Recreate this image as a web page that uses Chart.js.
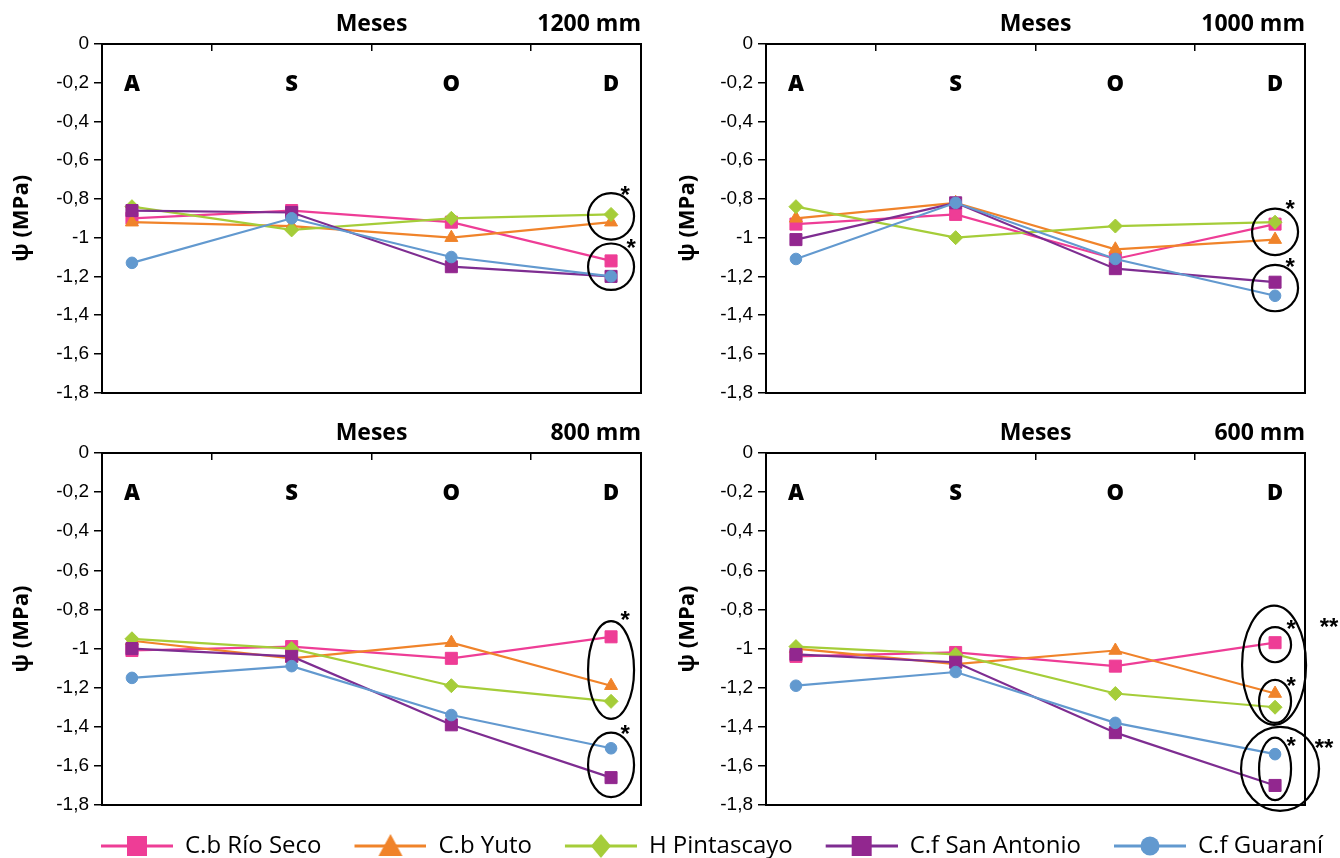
<!DOCTYPE html>
<html>
<head>
<meta charset="utf-8">
<script src="https://cdn.jsdelivr.net/npm/chart.js@4.4.0/dist/chart.umd.min.js"></script>
<style>
html,body{margin:0;padding:0;background:#fff;width:1340px;height:858px;overflow:hidden;position:relative;}
canvas{position:absolute;}
</style>
</head>
<body>
<canvas id="c1" width="670" height="409" style="left:0;top:0"></canvas>
<canvas id="c2" width="670" height="409" style="left:670px;top:0"></canvas>
<canvas id="c3" width="670" height="420" style="left:0;top:409px"></canvas>
<canvas id="c4" width="670" height="420" style="left:670px;top:409px"></canvas>
<canvas id="cl" width="1340" height="120" style="left:0;top:816px"></canvas>
<script>
// ---------------- data ----------------
const months = ['A', 'S', 'O', 'D'];
const seriesNames = ['C.b Río Seco', 'C.b Yuto', 'H Pintascayo', 'C.f San Antonio', 'C.f Guaraní'];
const panelTitles = ['1200 mm', '1000 mm', '800 mm', '600 mm'];
const xAxisTitle = 'Meses';
const yAxisTitle = 'ψ (MPa)';
const yMin = -1.8, yMax = 0, yStep = 0.2;

// 1200 mm
const rioSeco1200    = [-0.90, -0.86, -0.92, -1.12];
const yuto1200       = [-0.92, -0.94, -1.00, -0.92];
const pintascayo1200 = [-0.84, -0.96, -0.90, -0.88];
const sanAntonio1200 = [-0.86, -0.87, -1.15, -1.20];
const guarani1200    = [-1.13, -0.90, -1.10, -1.20];
// 1000 mm
const rioSeco1000    = [-0.93, -0.88, -1.11, -0.93];
const yuto1000       = [-0.90, -0.82, -1.06, -1.01];
const pintascayo1000 = [-0.84, -1.00, -0.94, -0.92];
const sanAntonio1000 = [-1.01, -0.82, -1.16, -1.23];
const guarani1000    = [-1.11, -0.82, -1.11, -1.30];
// 800 mm
const rioSeco800    = [-1.01, -0.99, -1.05, -0.94];
const yuto800       = [-0.96, -1.05, -0.97, -1.19];
const pintascayo800 = [-0.95, -1.00, -1.19, -1.27];
const sanAntonio800 = [-1.00, -1.04, -1.39, -1.66];
const guarani800    = [-1.15, -1.09, -1.34, -1.51];
// 600 mm
const rioSeco600    = [-1.04, -1.02, -1.09, -0.97];
const yuto600       = [-1.00, -1.08, -1.01, -1.23];
const pintascayo600 = [-0.99, -1.03, -1.23, -1.30];
const sanAntonio600 = [-1.03, -1.07, -1.43, -1.70];
const guarani600    = [-1.19, -1.12, -1.38, -1.54];

// significance marks at December (value ranges enclosed)
const marks1200 = [
  {top: -0.77, bottom: -1.01, star: '*'},
  {top: -1.03, bottom: -1.27, star: '*'}
];
const marks1000 = [
  {top: -0.85, bottom: -1.09, star: '*'},
  {top: -1.14, bottom: -1.38, star: '*'}
];
const marks800 = [
  {top: -0.86, bottom: -1.36, star: '*'},
  {top: -1.43, bottom: -1.76, star: '*'}
];
const marks600 = [
  {top: -0.78, bottom: -1.39, star: '**'},
  {top: -0.89, bottom: -1.07, star: '*'},
  {top: -1.16, bottom: -1.38, star: '*'},
  {top: -1.40, bottom: -1.83, star: '**'},
  {top: -1.455, bottom: -1.775, star: '*'}
];

// ---------------- styles ----------------
const colors = ['#EE3D96', '#F0832A', '#A5CD39', '#92278F', '#6299CF'];
const lineColors = ['#EE3D96', '#F0832A', '#A5CD39', '#7E2D91', '#6299CF'];
const pointStyles = ['rect', 'triangle', 'rectRot', 'rect', 'circle'];
const pointRadii = [8.5, 7.5, 7, 8.5, 5.8];
const BOLD = "'Open Sans', 'Lato', sans-serif";

// per-mark visual styling (ellipse half-width, centre shift, star offset) by panel
const markStyles = [
  [{rx: 23, dx: 0, sx: 14, sy: 10}, {rx: 23, dx: 0, sx: 20, sy: 13}],
  [{rx: 23, dx: 0, sx: 15, sy: 8}, {rx: 23, dx: 0, sx: 15, sy: 10}],
  [{rx: 23, dx: 0, sx: 14, sy: 7}, {rx: 23, dx: 0, sx: 14, sy: 9}],
  [{rx: 32, dx: -1, sx: 54, sy: 29}, {rx: 16, dx: 0, sx: 16, sy: 10}, {rx: 16, dx: 0, sx: 16, sy: 14},
   {rx: 39, dx: 5, sx: 49, sy: 29}, {rx: 16, dx: 0, sx: 16, sy: 16}]
];

function fmt(v) {
  const r = Math.round(v * 10) / 10;
  return String(r === 0 ? 0 : r).replace('.', ',');
}

const decor = {
  id: 'decor',
  afterDatasetsDraw(chart, args, opts) {
    const {ctx} = chart;
    const xs = chart.scales.x, ys = chart.scales.y;
    ctx.save();
    ctx.fillStyle = '#000';
    ctx.font = '800 22px ' + BOLD;
    ctx.textAlign = 'center';
    ctx.textBaseline = 'middle';
    months.forEach((m, i) => ctx.fillText(m, xs.getPixelForValue(i), ys.getPixelForValue(-0.2) + 2));
    opts.marks.forEach((a, k) => {
      const st = opts.styles[k];
      const cx = xs.getPixelForValue(months.length - 1) + st.dx;
      const yt = ys.getPixelForValue(a.top), yb = ys.getPixelForValue(a.bottom);
      ctx.beginPath();
      ctx.ellipse(cx, (yt + yb) / 2, st.rx, (yb - yt) / 2, 0, 0, Math.PI * 2);
      ctx.lineWidth = 2.2;
      ctx.strokeStyle = '#000';
      ctx.stroke();
      ctx.font = "bold 24px 'Liberation Sans', Arial, sans-serif";
      ctx.textAlign = 'center';
      ctx.textBaseline = 'alphabetic';
      ctx.fillText(a.star, cx - st.dx + st.sx, yt + st.sy);
    });
    ctx.restore();
  }
};

function makePanel(id, title, series, marks, styles, yWidth, padRight, padBottom, yTitlePad) {
  const datasets = series.map((vals, i) => ({
    label: seriesNames[i],
    data: vals.map((v, j) => ({x: j, y: v})),
    borderColor: lineColors[i],
    backgroundColor: colors[i],
    pointBackgroundColor: colors[i],
    pointBorderColor: colors[i],
    pointBorderWidth: 1,
    pointStyle: pointStyles[i],
    pointRadius: pointRadii[i],
    pointHoverRadius: pointRadii[i],
    borderWidth: 2.2,
    tension: 0,
    order: series.length - i,
    xAxisID: 'x', yAxisID: 'y',
    clip: false
  }));
  new Chart(document.getElementById(id), {
    type: 'line',
    data: {datasets},
    plugins: [decor],
    options: {
      responsive: false,
      animation: false,
      layout: {padding: {left: 0, right: padRight, top: 0, bottom: padBottom}},
      plugins: {
        legend: {display: false},
        tooltip: {enabled: false},
        title: {
          display: true, text: title, align: 'end', color: '#000',
          font: {family: BOLD, size: 23, weight: 'bold', lineHeight: 1},
          padding: {top: 13, bottom: -36}
        },
        decor: {marks, styles}
      },
      scales: {
        x: {
          type: 'linear', position: 'top', min: -0.1875, max: months.length - 1 + 0.1875,
          afterBuildTicks: s => { s.ticks = [0.5, 1.5, 2.5].map(v => ({value: v})); },
          ticks: {display: false},
          grid: {drawOnChartArea: false, drawTicks: true, tickLength: -7, color: '#000', lineWidth: 1.5},
          border: {display: true, color: '#000', width: 2},
          title: {display: true, text: xAxisTitle, color: '#000',
                  font: {family: BOLD, size: 23, weight: 'bold', lineHeight: 1}, padding: {top: 13, bottom: 0}},
          afterFit: s => { s.height = 44; }
        },
        x2: {
          type: 'linear', position: 'bottom', min: -0.1875, max: months.length - 1 + 0.1875,
          ticks: {display: false},
          grid: {drawOnChartArea: false, drawTicks: false},
          border: {display: true, color: '#000', width: 2},
          afterFit: s => { s.height = 0; }
        },
        y: {
          type: 'linear', position: 'left', min: yMin, max: yMax,
          ticks: {stepSize: yStep, color: '#000', padding: 5,
                  font: {family: "'Liberation Sans', Arial, sans-serif", size: 19},
                  callback: v => fmt(v)},
          grid: {drawOnChartArea: false, drawTicks: true, tickLength: 8, color: '#000', lineWidth: 1.5},
          border: {display: true, color: '#000', width: 2},
          title: {display: true, text: yAxisTitle, color: '#000',
                  font: {family: BOLD, size: 22, weight: 'bold', lineHeight: 1.2}, padding: {top: yTitlePad, bottom: 0}},
          afterFit: s => { s.width = yWidth; }
        },
        y2: {
          type: 'linear', position: 'right', min: yMin, max: yMax,
          ticks: {display: false},
          grid: {drawOnChartArea: false, drawTicks: false},
          border: {display: true, color: '#000', width: 2},
          afterFit: s => { s.width = 0; }
        }
      }
    }
  });
}

makePanel('c1', panelTitles[0], [rioSeco1200, yuto1200, pintascayo1200, sanAntonio1200, guarani1200], marks1200, markStyles[0], 102, 29, 13, 9);
makePanel('c2', panelTitles[1], [rioSeco1000, yuto1000, pintascayo1000, sanAntonio1000, guarani1000], marks1000, markStyles[1], 96, 35, 13, 5);
makePanel('c3', panelTitles[2], [rioSeco800, yuto800, pintascayo800, sanAntonio800, guarani800], marks800, markStyles[2], 102, 29, 24, 9);
makePanel('c4', panelTitles[3], [rioSeco600, yuto600, pintascayo600, sanAntonio600, guarani600], marks600, markStyles[3], 96, 35, 24, 5);

// ---------------- legend ----------------
const LEG_GAP = 27, LEG_LINE = 72;
function legendIcon(i) {
  const c = document.createElement('canvas');
  c.width = LEG_GAP + LEG_LINE; c.height = 28;
  const g = c.getContext('2d');
  const y = 14, x0 = LEG_GAP, xm = LEG_GAP + LEG_LINE / 2;
  g.strokeStyle = lineColors[i]; g.lineWidth = 3;
  g.beginPath(); g.moveTo(x0, y); g.lineTo(x0 + LEG_LINE, y); g.stroke();
  g.fillStyle = colors[i];
  g.beginPath();
  const s = pointStyles[i];
  if (s === 'rect') { g.rect(xm - 10, y - 10, 20, 20); }
  else if (s === 'triangle') { g.moveTo(xm, y - 12); g.lineTo(xm + 12, y + 10); g.lineTo(xm - 12, y + 10); g.closePath(); }
  else if (s === 'rectRot') { g.moveTo(xm, y - 12); g.lineTo(xm + 10, y); g.lineTo(xm, y + 12); g.lineTo(xm - 10, y); g.closePath(); }
  else { g.arc(xm, y, 9.5, 0, Math.PI * 2); }
  g.fill();
  return c;
}
const icons = seriesNames.map((n, i) => legendIcon(i));
new Chart(document.getElementById('cl'), {
  type: 'line',
  data: {datasets: seriesNames.map((n, i) => ({label: n, data: [], borderColor: lineColors[i], backgroundColor: colors[i]}))},
  options: {
    responsive: false, animation: false,
    layout: {padding: {left: 68, right: 0, top: 12, bottom: 0}},
    scales: {x: {display: false}, y: {display: false}},
    plugins: {
      tooltip: {enabled: false},
      legend: {
        display: true, position: 'top', align: 'start', maxHeight: 80,
        labels: {
          usePointStyle: true, pointStyleWidth: LEG_GAP + LEG_LINE, padding: 6, color: '#000',
          font: {family: "'Open Sans', sans-serif", size: 24},
          generateLabels: chart => seriesNames.map((n, i) => ({
            text: n, fillStyle: colors[i], strokeStyle: colors[i], lineWidth: 0,
            pointStyle: icons[i], hidden: false, datasetIndex: i, fontColor: '#000'
          }))
        }
      }
    }
  }
});
</script>
</body>
</html>
